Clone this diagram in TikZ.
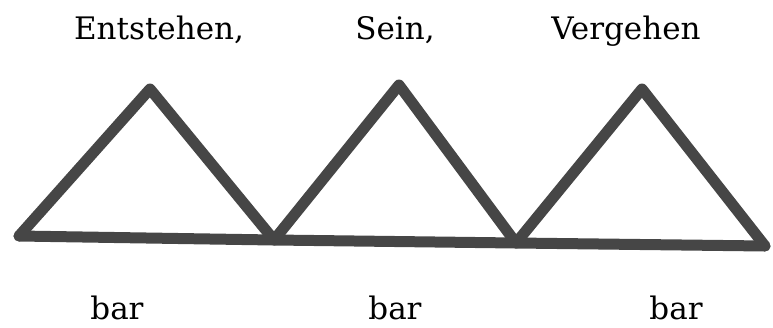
\documentclass[tikz,border=0pt]{standalone}
\usepackage{fontspec}
\setmainfont{DejaVu Serif}
\definecolor{ink}{HTML}{464646}
\tikzset{
  stroke/.style={draw=ink, line width=11pt, line join=round, line cap=round},
  lbl/.style={anchor=base, inner sep=0pt, font=\fontsize{31}{36}\selectfont, text=black}
}
\begin{document}
\begin{tikzpicture}[x=1pt,y=-1pt]
\useasboundingbox (0,0) rectangle (773,327);
\coordinate (a1) at (19,236);
\coordinate (p1) at (150,89);
\coordinate (b1) at (274,240);
\coordinate (p2) at (399,85);
\coordinate (b2) at (516,243);
\coordinate (p3) at (642,89);
\coordinate (c) at (765,246);
\draw[stroke] (a1) -- (b1) -- (b2) -- (c);
\draw[stroke] (a1) -- (p1) -- (b1) -- (p2) -- (b2) -- (p3) -- (c);
\node[lbl] (t1) at (159,39) {Entstehen,};
\node[lbl] (t2) at (395,39) {Sein,};
\node[lbl] (t3) at (626,39) {Vergehen};
\node[lbl] (u1) at (117,319) {bar};
\node[lbl] (u2) at (395,319) {bar};
\node[lbl] (u3) at (676,319) {bar};
\end{tikzpicture}
\end{document}
